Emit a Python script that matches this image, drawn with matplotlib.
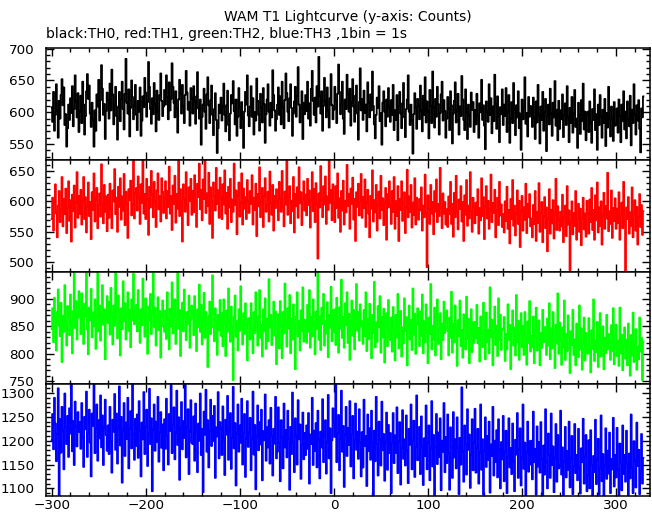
import numpy as np
import matplotlib
matplotlib.use('Agg')
import matplotlib.pyplot as plt
from matplotlib.ticker import MultipleLocator

plt.rcParams['font.family'] = ['DejaVu Sans']

title = "WAM T1 Lightcurve (y-axis: Counts)"
subtitle = "black:TH0, red:TH1, green:TH2, blue:TH3 ,1bin = 1s"
t_start = -300  # time of first bin (s)

th0 = [
    608, 585, 632, 571, 596, 644, 603, 560, 618, 590, 627, 652, 611, 639, 580, 597, 546, 575, 612, 588, 622, 599, 641, 578, 605, 658, 617, 592, 630, 569,
    601, 626, 583, 648, 612, 565, 594, 633, 660, 621, 642, 598, 577, 615, 589, 546, 603, 571, 628, 609, 651, 587, 619, 674, 637, 596, 613, 558, 602, 631,
    619, 590, 645, 603, 667, 628, 581, 612, 640, 594, 557, 609, 632, 586, 621, 648, 605, 573, 629, 684, 615, 598, 636, 562, 607, 650, 624, 589, 611, 643,
    596, 572, 618, 601, 639, 563, 587, 625, 608, 654, 631, 593, 616, 679, 640, 605, 582, 622, 597, 646, 612, 570, 634, 601, 588, 627, 661, 618, 594, 609,
    635, 612, 658, 624, 589, 647, 603, 621, 677, 640, 615, 592, 633, 606, 568, 620, 651, 629, 598, 643, 610, 583, 627, 665, 631, 604, 616, 579, 638, 622,
    598, 641, 617, 582, 625, 663, 606, 590, 620, 549, 593, 612, 637, 601, 574, 628, 655, 611, 583, 619, 642, 596, 564, 605, 630, 588, 536, 575, 612, 599,
    623, 587, 609, 645, 596, 570, 611, 634, 580, 556, 598, 627, 614, 649, 602, 581, 620, 563, 593, 638, 607, 575, 616, 590, 544, 601, 632, 612, 658, 595,
    578, 609, 641, 593, 622, 565, 600, 587, 653, 618, 596, 571, 629, 607, 584, 638, 613, 552, 597, 620, 644, 601, 579, 615, 592, 666, 627, 603, 571, 589,
    612, 639, 596, 625, 581, 648, 608, 575, 619, 661, 630, 601, 586, 622, 644, 607, 563, 598, 617, 640, 593, 626, 671, 612, 584, 605, 633, 558, 615, 597,
    627, 602, 648, 590, 614, 579, 637, 665, 618, 596, 623, 584, 641, 609, 687, 626, 598, 633, 571, 610, 654, 617, 592, 639, 603, 576, 622, 660, 611, 589,
    604, 640, 618, 583, 629, 675, 632, 597, 613, 648, 590, 566, 620, 605, 659, 628, 601, 637, 579, 615, 652, 609, 585, 626, 642, 598, 557, 616, 669, 603,
    621, 588, 634, 599, 612, 570, 647, 615, 592, 628, 603, 664, 610, 581, 559, 596, 623, 607, 641, 586, 599, 549, 615, 633, 601, 578, 620, 593, 638, 609,
    585, 619, 596, 643, 572, 603, 588, 627, 556, 610, 632, 598, 575, 614, 646, 592, 561, 605, 620, 658, 601, 580, 612, 587, 535, 597, 630, 608, 574, 621,
    611, 589, 642, 603, 570, 626, 596, 655, 584, 617, 601, 559, 635, 610, 583, 664, 608, 576, 621, 593, 640, 613, 565, 599, 628, 648, 587, 619, 602, 560,
    590, 624, 606, 572, 633, 611, 551, 598, 618, 647, 584, 603, 629, 565, 609, 594, 657, 620, 588, 572, 636, 600, 558, 612, 595, 577, 631, 604, 616, 569,
    603, 581, 629, 595, 560, 614, 600, 651, 588, 611, 579, 542, 617, 601, 585, 644, 596, 622, 567, 609, 586, 659, 612, 574, 625, 593, 553, 608, 597, 636,
    580, 612, 594, 638, 569, 601, 627, 552, 590, 616, 583, 646, 605, 564, 611, 592, 633, 575, 598, 541, 620, 589, 607, 655, 582, 599, 562, 624, 593, 610,
    606, 577, 623, 590, 558, 617, 584, 643, 596, 551, 609, 588, 632, 571, 600, 621, 539, 594, 612, 581, 637, 598, 563, 615, 592, 649, 579, 604, 556, 618,
    574, 603, 589, 628, 561, 596, 614, 580, 641, 592, 553, 607, 583, 624, 568, 598, 635, 577, 590, 544, 615, 595, 566, 619, 586, 645, 573, 601, 556, 597,
    601, 569, 617, 584, 552, 605, 588, 636, 572, 597, 541, 612, 580, 627, 593, 560, 604, 583, 621, 547, 599, 576, 640, 588, 562, 609, 591, 555, 616, 579,
    581, 606, 568, 620, 594, 553, 612, 586, 633, 573, 601, 559, 617, 590, 578, 626, 548, 604, 583, 644, 597, 565, 611, 587, 619, 574, 537, 606, 592, 625,
]

th1 = [
    571, 606, 552, 597, 628, 580, 541, 593, 617, 566, 587, 640, 559, 604, 579, 621, 548, 590, 633, 568, 602, 534, 611, 584, 626, 557, 598, 648, 573, 609,
    580, 619, 562, 601, 640, 571, 607, 549, 592, 631, 576, 599, 538, 615, 586, 646, 567, 603, 622, 556, 594, 613, 575, 661, 597, 564, 627, 583, 608, 551,
    611, 573, 629, 588, 556, 618, 600, 653, 579, 606, 550, 624, 591, 638, 570, 608, 585, 645, 561, 616, 597, 540, 620, 602, 634, 577, 595, 669, 572, 613,
    622, 585, 641, 606, 563, 628, 598, 671, 580, 612, 571, 637, 603, 545, 624, 590, 650, 611, 574, 632, 600, 558, 618, 646, 587, 609, 567, 638, 616, 581,
    605, 633, 572, 617, 591, 657, 580, 609, 553, 626, 596, 642, 565, 612, 588, 668, 576, 620, 599, 534, 628, 604, 583, 648, 593, 561, 623, 601, 637, 578,
    617, 582, 643, 600, 558, 629, 607, 662, 587, 619, 569, 636, 604, 675, 581, 613, 592, 647, 563, 623, 601, 540, 631, 609, 585, 655, 596, 618, 573, 639,
    606, 571, 628, 595, 651, 580, 614, 555, 624, 590, 637, 566, 603, 583, 662, 594, 618, 546, 610, 631, 575, 598, 646, 562, 621, 588, 607, 571, 635, 600,
    581, 617, 596, 643, 562, 606, 586, 629, 543, 612, 592, 656, 574, 600, 622, 558, 608, 638, 583, 594, 616, 567, 649, 598, 578, 627, 552, 609, 589, 620,
    600, 569, 632, 605, 583, 650, 591, 559, 616, 595, 667, 578, 608, 625, 564, 601, 584, 640, 549, 612, 592, 623, 573, 656, 597, 615, 561, 604, 633, 585,
    611, 577, 637, 594, 618, 557, 602, 648, 584, 620, 566, 630, 596, 506, 613, 590, 658, 603, 574, 625, 595, 641, 563, 608, 586, 670, 598, 619, 569, 628,
    597, 566, 625, 589, 646, 573, 605, 550, 617, 585, 634, 562, 601, 582, 660, 593, 612, 555, 621, 596, 639, 570, 604, 535, 615, 591, 629, 577, 599, 645,
    573, 607, 589, 636, 558, 598, 619, 580, 541, 609, 588, 651, 567, 602, 582, 627, 552, 594, 616, 572, 642, 586, 605, 561, 597, 622, 537, 612, 590, 633,
    594, 563, 617, 583, 640, 555, 600, 576, 625, 535, 604, 586, 633, 568, 596, 615, 548, 590, 652, 574, 608, 583, 627, 557, 598, 578, 638, 562, 606, 587,
    570, 604, 585, 623, 552, 593, 574, 644, 581, 492, 610, 588, 563, 627, 580, 599, 546, 617, 583, 636, 566, 596, 576, 655, 589, 556, 613, 580, 599, 562,
    587, 558, 608, 579, 632, 563, 596, 542, 614, 574, 642, 583, 554, 603, 588, 625, 567, 599, 535, 610, 578, 635, 560, 593, 572, 648, 584, 550, 606, 590,
    564, 598, 578, 620, 547, 589, 569, 638, 576, 607, 538, 592, 625, 572, 601, 555, 587, 644, 566, 597, 581, 619, 541, 585, 606, 561, 632, 577, 595, 558,
    579, 549, 600, 568, 624, 555, 586, 531, 604, 571, 635, 560, 593, 544, 580, 618, 563, 601, 525, 584, 609, 552, 590, 570, 629, 548, 596, 574, 612, 559,
    572, 541, 594, 563, 617, 535, 583, 565, 630, 550, 581, 599, 533, 575, 607, 556, 590, 518, 571, 620, 547, 586, 564, 602, 539, 578, 637, 553, 592, 570,
    552, 583, 559, 611, 533, 574, 593, 543, 625, 562, 585, 487, 566, 600, 546, 581, 560, 617, 537, 571, 596, 550, 588, 528, 573, 606, 554, 580, 542, 601,
    580, 547, 603, 566, 622, 553, 586, 537, 610, 569, 631, 549, 590, 560, 600, 529, 577, 614, 555, 592, 572, 647, 551, 584, 563, 618, 540, 589, 568, 605,
    555, 588, 565, 615, 537, 576, 598, 556, 632, 563, 486, 590, 571, 607, 547, 582, 560, 623, 541, 578, 602, 552, 591, 529, 573, 612, 558, 594, 545, 584,
]

th2 = [
    845, 883, 821, 902, 864, 806, 876, 917, 851, 832, 893, 785, 869, 840, 925, 858, 815, 887, 871, 834, 908, 853, 801, 878, 956, 847, 896, 826, 866, 914,
    879, 836, 910, 857, 818, 891, 868, 948, 844, 799, 884, 861, 918, 830, 875, 850, 899, 809, 866, 960, 841, 888, 824, 870, 925, 853, 881, 790, 863, 905,
    856, 894, 835, 920, 873, 817, 888, 851, 955, 866, 828, 906, 876, 797, 883, 845, 932, 860, 892, 826, 872, 912, 842, 880, 812, 899, 861, 946, 854, 879,
    889, 841, 916, 868, 820, 881, 852, 937, 871, 831, 901, 856, 800, 886, 860, 909, 836, 873, 951, 849, 884, 815, 865, 903, 843, 878, 793, 870, 897, 850,
    840, 879, 827, 912, 862, 808, 882, 850, 930, 837, 870, 899, 818, 866, 953, 846, 880, 796, 859, 893, 841, 917, 868, 825, 876, 855, 906, 811, 862, 888,
    872, 834, 905, 860, 805, 881, 849, 926, 840, 889, 817, 864, 911, 829, 876, 853, 776, 868, 895, 836, 873, 943, 848, 823, 883, 860, 798, 871, 843, 898,
    833, 874, 814, 899, 857, 796, 879, 840, 919, 862, 822, 886, 849, 752, 868, 906, 831, 859, 806, 881, 842, 923, 855, 817, 874, 836, 892, 864, 788, 858,
    865, 826, 892, 847, 801, 876, 838, 912, 858, 815, 868, 916, 829, 853, 795, 881, 841, 901, 809, 864, 823, 936, 848, 871, 816, 857, 895, 833, 877, 781,
    832, 872, 810, 896, 852, 792, 876, 837, 928, 857, 813, 883, 846, 907, 801, 864, 826, 890, 853, 772, 868, 912, 832, 859, 806, 879, 841, 921, 822, 862,
    861, 820, 889, 840, 916, 811, 867, 832, 899, 853, 799, 877, 845, 947, 826, 868, 807, 884, 854, 909, 815, 860, 837, 894, 794, 871, 848, 922, 823, 879,
    840, 881, 816, 902, 857, 802, 885, 846, 935, 829, 867, 811, 892, 852, 912, 820, 873, 789, 859, 897, 833, 880, 808, 864, 927, 842, 876, 824, 890, 850,
    859, 818, 880, 833, 912, 805, 864, 827, 891, 846, 792, 871, 838, 931, 812, 857, 822, 887, 849, 905, 802, 867, 830, 882, 784, 853, 874, 814, 898, 841,
    825, 866, 804, 885, 843, 788, 871, 830, 909, 810, 857, 878, 795, 848, 819, 901, 841, 867, 779, 852, 888, 826, 861, 807, 919, 835, 873, 800, 854, 883,
    853, 814, 877, 832, 908, 801, 859, 821, 890, 842, 783, 866, 836, 927, 808, 851, 826, 884, 797, 860, 899, 818, 845, 874, 790, 855, 825, 895, 838, 863,
    879, 842, 797, 866, 829, 913, 802, 855, 821, 888, 849, 778, 861, 832, 897, 814, 843, 793, 872, 847, 808, 904, 827, 864, 783, 836, 881, 803, 857, 820,
    858, 829, 889, 819, 847, 786, 868, 836, 812, 893, 853, 790, 875, 822, 844, 801, 921, 830, 862, 779, 837, 886, 816, 851, 796, 901, 825, 871, 807, 845,
    844, 867, 787, 836, 808, 890, 826, 853, 772, 842, 879, 815, 848, 797, 907, 821, 860, 789, 838, 874, 812, 851, 798, 876, 830, 780, 859, 820, 896, 804,
    833, 812, 868, 783, 843, 884, 806, 829, 861, 779, 838, 811, 880, 821, 849, 837, 798, 864, 815, 892, 790, 846, 810, 876, 826, 774, 853, 819, 910, 800,
    857, 825, 780, 848, 812, 897, 789, 836, 805, 870, 831, 765, 841, 816, 880, 798, 826, 779, 855, 829, 794, 888, 808, 846, 771, 819, 866, 788, 838, 803,
    800, 865, 815, 766, 843, 809, 899, 787, 824, 803, 858, 776, 833, 874, 795, 817, 850, 772, 829, 801, 871, 808, 836, 821, 789, 852, 805, 883, 781, 831,
    853, 796, 824, 778, 884, 801, 835, 770, 815, 848, 791, 826, 779, 855, 808, 760, 834, 797, 875, 785, 818, 845, 771, 813, 790, 866, 804, 829, 752, 822,
]

th3 = [
    1200, 1256, 1182, 1290, 1236, 1157, 1214, 1310, 1080, 1245, 1175, 1271, 1222, 1140, 1299, 1229, 1193, 1252, 1166, 1268, 1215, 1318, 1178, 1241, 1149, 1282, 1230, 1188, 1260, 1219,
    1239, 1183, 1279, 1207, 1145, 1250, 1224, 1303, 1166, 1216, 1265, 1196, 1125, 1257, 1231, 1320, 1174, 1225, 1276, 1158, 1243, 1205, 1295, 1186, 1253, 1149, 1228, 1286, 1212, 1179,
    1232, 1172, 1271, 1198, 1133, 1244, 1219, 1298, 1181, 1257, 1152, 1228, 1314, 1190, 1250, 1112, 1221, 1279, 1168, 1238, 1204, 1290, 1142, 1225, 1262, 1184, 1322, 1213, 1160, 1246,
    1189, 1255, 1164, 1283, 1222, 1125, 1238, 1203, 1302, 1172, 1229, 1265, 1147, 1216, 1309, 1193, 1247, 1094, 1224, 1276, 1179, 1240, 1197, 1292, 1156, 1218, 1260, 1185, 1234, 1138,
    1245, 1183, 1288, 1210, 1150, 1256, 1221, 1317, 1174, 1233, 1270, 1161, 1217, 1305, 1191, 1249, 1118, 1225, 1281, 1182, 1241, 1206, 1321, 1165, 1228, 1266, 1130, 1219, 1285, 1196,
    1193, 1251, 1158, 1278, 1219, 1134, 1236, 1200, 1299, 1170, 1225, 1092, 1261, 1213, 1307, 1177, 1243, 1144, 1220, 1286, 1189, 1252, 1199, 1273, 1122, 1228, 1209, 1302, 1163, 1239,
    1226, 1170, 1272, 1202, 1128, 1244, 1213, 1294, 1160, 1220, 1258, 1141, 1206, 1313, 1184, 1237, 1106, 1215, 1276, 1177, 1232, 1196, 1288, 1150, 1216, 1256, 1124, 1205, 1283, 1187,
    1217, 1248, 1138, 1204, 1303, 1171, 1233, 1098, 1209, 1274, 1180, 1239, 1192, 1265, 1117, 1220, 1201, 1297, 1158, 1228, 1186, 1243, 1152, 1269, 1210, 1127, 1225, 1194, 1292, 1163,
    1177, 1270, 1195, 1115, 1243, 1207, 1142, 1278, 1186, 1222, 1165, 1263, 1204, 1097, 1229, 1172, 1301, 1196, 1134, 1247, 1211, 1150, 1285, 1203, 1234, 1120, 1191, 1259, 1161, 1216,
    1170, 1232, 1183, 1258, 1110, 1213, 1193, 1290, 1149, 1221, 1179, 1237, 1144, 1263, 1202, 1121, 1219, 1186, 1287, 1155, 1210, 1243, 1131, 1197, 1296, 1163, 1226, 1090, 1201, 1268,
    1238, 1208, 1328, 1155, 1216, 1254, 1138, 1202, 1305, 1177, 1231, 1103, 1213, 1271, 1168, 1227, 1191, 1283, 1146, 1214, 1252, 1121, 1200, 1278, 1181, 1219, 1162, 1266, 1197, 1125,
    1218, 1144, 1286, 1189, 1210, 1105, 1255, 1178, 1226, 1160, 1263, 1196, 1086, 1221, 1157, 1292, 1193, 1127, 1240, 1203, 1148, 1282, 1180, 1214, 1116, 1197, 1259, 1139, 1233, 1174,
    1216, 1090, 1195, 1258, 1153, 1211, 1175, 1270, 1132, 1198, 1239, 1108, 1186, 1264, 1162, 1203, 1148, 1253, 1180, 1111, 1225, 1192, 1276, 1140, 1200, 1242, 1124, 1187, 1295, 1159,
    1163, 1229, 1130, 1251, 1188, 1107, 1205, 1168, 1274, 1140, 1196, 1232, 1117, 1183, 1283, 1146, 1212, 1086, 1187, 1256, 1151, 1217, 1166, 1247, 1096, 1200, 1176, 1279, 1134, 1208,
    1153, 1255, 1174, 1097, 1228, 1187, 1122, 1260, 1165, 1203, 1142, 1249, 1185, 1088, 1206, 1150, 1312, 1177, 1114, 1232, 1193, 1129, 1266, 1181, 1213, 1101, 1170, 1245, 1138, 1196,
    1267, 1133, 1186, 1225, 1110, 1175, 1276, 1139, 1203, 1087, 1179, 1249, 1145, 1210, 1160, 1240, 1091, 1192, 1168, 1271, 1127, 1200, 1155, 1222, 1123, 1245, 1181, 1100, 1197, 1161,
    1252, 1115, 1178, 1221, 1090, 1166, 1247, 1144, 1185, 1130, 1236, 1157, 1094, 1202, 1171, 1258, 1122, 1182, 1226, 1106, 1165, 1276, 1141, 1196, 1085, 1176, 1240, 1135, 1199, 1150,
    1200, 1119, 1261, 1155, 1183, 1087, 1230, 1146, 1197, 1133, 1239, 1162, 1084, 1190, 1129, 1266, 1157, 1100, 1215, 1170, 1122, 1257, 1149, 1188, 1092, 1163, 1235, 1114, 1212, 1142,
    1148, 1263, 1129, 1186, 1086, 1157, 1229, 1123, 1178, 1139, 1240, 1102, 1163, 1210, 1088, 1147, 1235, 1132, 1170, 1117, 1225, 1143, 1089, 1184, 1155, 1246, 1110, 1167, 1212, 1094,
    1128, 1201, 1100, 1222, 1149, 1085, 1168, 1134, 1244, 1109, 1160, 1204, 1087, 1143, 1253, 1115, 1172, 1083, 1148, 1226, 1120, 1179, 1131, 1217, 1090, 1162, 1140, 1248, 1104, 1170,
    1123, 1227, 1139, 1085, 1194, 1155, 1096, 1232, 1130, 1170, 1114, 1221, 1152, 1086, 1173, 1121, 1255, 1144, 1090, 1199, 1158, 1102, 1238, 1147, 1181, 1088, 1136, 1214, 1110, 1164,
]

series = [th0, th1, th2, th3]
colors = ['black', '#ff0000', '#00ff00', '#0000ff']
ylims = [(525, 701), (484, 668), (745, 949), (1084, 1319)]
xlim = (-306, 336)

W, H = 652, 515
fig = plt.figure(figsize=(W / 100, H / 100), dpi=100)
left_px, right_px, top_px, bot_px = 46, 650, 48, 496
ph = (bot_px - top_px) / 4

for i, (y, c, yl) in enumerate(zip(series, colors, ylims)):
    y0 = top_px + i * ph
    ax = fig.add_axes([left_px / W, 1 - (y0 + ph) / H, (right_px - left_px) / W, ph / H])
    t = t_start + np.arange(len(y))
    ax.plot(t, y, color=c, lw=1.3, drawstyle='steps-mid')
    ax.set_xlim(*xlim)
    ax.set_ylim(*yl)
    ax.xaxis.set_major_locator(MultipleLocator(100))
    ax.xaxis.set_minor_locator(MultipleLocator(20))
    ax.yaxis.set_major_locator(MultipleLocator(50))
    ax.yaxis.set_minor_locator(MultipleLocator(10))
    ax.tick_params(which='both', direction='in', top=True, right=True,
                   labelsize=9.7, colors='black')
    ax.tick_params(which='major', length=6, width=1)
    ax.tick_params(which='minor', length=3, width=1)
    ax.tick_params(axis='y', pad=8)
    ax.tick_params(axis='x', pad=2)
    if i < 3:
        ax.tick_params(labelbottom=False)
    for s in ax.spines.values():
        s.set_linewidth(1.1)

fig.text(348 / W, 1 - 21 / H, title, ha='center', va='baseline', fontsize=10)
fig.text(46 / W, 1 - 38 / H, subtitle, ha='left', va='baseline', fontsize=10)

fig.savefig('out.png', dpi=100)
